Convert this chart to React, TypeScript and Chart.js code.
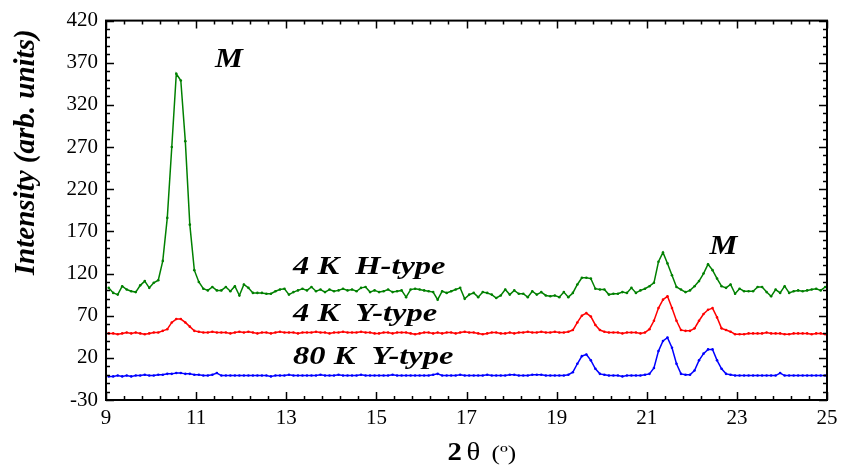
import React, { useEffect, useRef } from "react";
import { Chart, registerables } from "chart.js";

Chart.register(...registerables);

// 2θ sampling grid (degrees)
const twoTheta = [
  9.06, 9.16, 9.26, 9.36, 9.46, 9.56, 9.66, 9.76, 9.86, 9.96,
  10.06, 10.16, 10.26, 10.36, 10.46, 10.56, 10.66, 10.76, 10.86, 10.96,
  11.06, 11.16, 11.26, 11.36, 11.46, 11.56, 11.66, 11.76, 11.86, 11.96,
  12.06, 12.16, 12.26, 12.36, 12.46, 12.56, 12.66, 12.76, 12.86, 12.96,
  13.06, 13.16, 13.26, 13.36, 13.46, 13.56, 13.66, 13.76, 13.86, 13.96,
  14.06, 14.16, 14.26, 14.36, 14.46, 14.56, 14.66, 14.76, 14.86, 14.96,
  15.06, 15.16, 15.26, 15.36, 15.46, 15.56, 15.66, 15.76, 15.86, 15.96,
  16.06, 16.16, 16.26, 16.36, 16.46, 16.56, 16.66, 16.76, 16.86, 16.96,
  17.06, 17.16, 17.26, 17.36, 17.46, 17.56, 17.66, 17.76, 17.86, 17.96,
  18.06, 18.16, 18.26, 18.36, 18.46, 18.56, 18.66, 18.76, 18.86, 18.96,
  19.06, 19.16, 19.26, 19.36, 19.46, 19.56, 19.66, 19.76, 19.86, 19.96,
  20.06, 20.16, 20.26, 20.36, 20.46, 20.56, 20.66, 20.76, 20.86, 20.96,
  21.06, 21.16, 21.26, 21.36, 21.46, 21.56, 21.66, 21.76, 21.86, 21.96,
  22.06, 22.16, 22.26, 22.36, 22.46, 22.56, 22.66, 22.76, 22.86, 22.96,
  23.06, 23.16, 23.26, 23.36, 23.46, 23.56, 23.66, 23.76, 23.86, 23.96,
  24.06, 24.16, 24.26, 24.36, 24.46, 24.56, 24.66, 24.76, 24.86, 24.96,
];

// 4 K H-type (green)
const h4K = [
  103, 97, 95, 105, 101, 99, 98, 106, 111, 103,
  109, 112, 135, 186, 270, 357, 349, 277, 178, 124,
  110, 102, 100, 104, 100, 100, 104, 99, 105, 94,
  107, 103, 97, 97, 97, 96, 96, 99, 101, 102,
  95, 98, 100, 102, 100, 104, 99, 101, 98, 101,
  99, 100, 102, 100, 101, 99, 103, 104, 98, 100,
  98, 99, 101, 98, 99, 100, 92, 101, 102, 101,
  100, 99, 98, 89, 99, 97, 99, 101, 103, 90,
  95, 97, 92, 98, 97, 95, 91, 94, 101, 95,
  100, 96, 96, 92, 99, 95, 98, 94, 93, 94,
  92, 98, 92, 97, 107, 115, 115, 114, 102, 101,
  101, 95, 96, 96, 98, 97, 103, 97, 100, 102,
  105, 109, 134, 145, 132, 118, 104, 101, 98, 100,
  105, 111, 120, 131, 124, 114, 105, 103, 107, 96,
  102, 99, 99, 99, 104, 104, 98, 93, 101, 97,
  105, 97, 99, 100, 99, 100, 101, 102, 100, 104,
];

// 4 K Y-type (red)
const y4K = [
  49, 49, 48, 49, 50, 49, 50, 49, 48, 49,
  50, 50, 52, 54, 62, 66, 66, 62, 57, 52,
  51, 50, 50, 51, 50, 50, 50, 49, 50, 51,
  50, 51, 50, 49, 50, 50, 49, 50, 51, 50,
  50, 50, 49, 50, 50, 50, 51, 50, 50, 49,
  50, 50, 51, 50, 50, 50, 51, 50, 50, 49,
  49, 50, 50, 49, 50, 50, 50, 49, 48, 49,
  50, 50, 49, 50, 49, 50, 50, 49, 50, 51,
  50, 50, 49, 48, 49, 50, 50, 49, 49, 50,
  49, 50, 50, 51, 50, 50, 51, 50, 50, 51,
  50, 50, 51, 53, 62, 70, 73, 69, 59, 53,
  51, 50, 50, 50, 49, 50, 50, 50, 49, 50,
  54, 64, 79, 89, 93, 79, 64, 53, 52, 52,
  55, 64, 72, 77, 79, 68, 55, 53, 51, 48,
  48, 48, 49, 49, 49, 49, 50, 49, 49, 49,
  48, 48, 49, 49, 49, 49, 48, 49, 49, 48,
];

// 80 K Y-type (blue)
const y80K = [
  -2, -2, -1, -2, -1, -2, -1, -1, 0, -1,
  -1, 0, 0, 1, 1, 2, 2, 1, 1, 0,
  0, -1, -1, 0, 2, -1, -1, -1, -1, -1,
  -1, -1, -1, -1, -1, -1, -2, -1, -1, -1,
  0, -1, -1, -1, -1, -1, -1, 0, -1, -1,
  -1, 0, -1, -1, -1, -1, 0, -1, -1, -1,
  -1, -1, -1, 0, -1, -1, -1, -1, -1, -1,
  -1, -1, 0, 1, -1, -1, -1, -1, 0, -1,
  -1, -1, -1, -1, 0, -1, -1, -1, -1, 0,
  0, -1, -1, -1, 0, 0, 0, -1, -1, -1,
  -1, -1, 0, 3, 13, 22, 24, 17, 7, 1,
  0, -1, -1, -1, -2, -1, -1, -1, -1, 0,
  1, 8, 28, 40, 44, 32, 13, 1, 0, 0,
  5, 17, 25, 30, 30, 17, 7, 1, 0, -1,
  -1, -1, -1, -1, -1, -1, -1, -1, -1, 2,
  -1, -1, -1, -1, -1, -1, -1, -1, -1, -1,
];

const seriesNames = ["4 K  H-type", "4 K  Y-type", "80 K  Y-type"];
const seriesColors = ["#008000", "#ff0000", "#0000ff"];
// label anchor (2θ, intensity) for each series name, left/baseline
const seriesLabelX = [13.15, 13.15, 13.15];
const seriesLabelY = [119, 64, 13];
const peakMarks = ["M", "M"];
const peakMarkX = [11.42, 22.39];
const peakMarkY = [365, 143];

const SERIF = "'Liberation Serif', 'Times New Roman', serif";

function drawStretched(ctx: CanvasRenderingContext2D, text: string, x: number, y: number, font: string, sx: number) {
  ctx.save();
  ctx.font = font;
  ctx.textAlign = "left";
  ctx.textBaseline = "alphabetic";
  ctx.translate(x, y);
  ctx.scale(sx, 1);
  ctx.fillText(text, 0, 0);
  ctx.restore();
}

const framePlugin = {
  id: "frameAndText",
  afterDatasetsDraw(chart: any) {
    const { ctx, chartArea: a, scales } = chart;
    const xs = scales.x;
    const ys = scales.y;
    ctx.save();
    ctx.strokeStyle = "#000";
    ctx.fillStyle = "#000";
    ctx.lineWidth = 1.5;
    // x ticks (inward, top and bottom)
    for (let i = 0; i <= 40; i++) {
      const px = Math.round(xs.getPixelForValue(9 + i * 0.4)) + 0.5;
      const len = i % 5 === 0 ? 8 : 4;
      ctx.beginPath();
      ctx.moveTo(px, a.bottom);
      ctx.lineTo(px, a.bottom - len);
      ctx.moveTo(px, a.top);
      ctx.lineTo(px, a.top + len);
      ctx.stroke();
    }
    // y ticks (inward, left and right)
    for (let i = 0; i <= 45; i++) {
      const py = Math.round(ys.getPixelForValue(-30 + i * 10)) + 0.5;
      const len = i % 5 === 0 ? 8 : 4;
      ctx.beginPath();
      ctx.moveTo(a.left, py);
      ctx.lineTo(a.left + len, py);
      ctx.moveTo(a.right, py);
      ctx.lineTo(a.right - len, py);
      ctx.stroke();
    }
    ctx.lineWidth = 2;
    ctx.strokeRect(a.left, a.top, a.right - a.left, a.bottom - a.top);

    // series labels
    for (let i = 0; i < seriesNames.length; i++) {
      drawStretched(
        ctx,
        seriesNames[i],
        xs.getPixelForValue(seriesLabelX[i]),
        ys.getPixelForValue(seriesLabelY[i]),
        `italic bold 25px ${SERIF}`,
        1.3
      );
    }
    // peak marks
    for (let i = 0; i < peakMarks.length; i++) {
      drawStretched(
        ctx,
        peakMarks[i],
        xs.getPixelForValue(peakMarkX[i]),
        ys.getPixelForValue(peakMarkY[i]),
        `italic bold 28px ${SERIF}`,
        1.12
      );
    }

    // y-axis title
    ctx.save();
    ctx.translate(27, (a.top + a.bottom) / 2 - 58);
    ctx.rotate(-Math.PI / 2);
    ctx.font = `italic bold 29px ${SERIF}`;
    ctx.textAlign = "center";
    ctx.textBaseline = "middle";
    ctx.fillText("Intensity (arb. units)", 0, 0);
    ctx.restore();

    // x-axis title: "2 θ  (º)"
    const cx = (a.left + a.right) / 2 + 12;
    const base = a.bottom + 60;
    drawStretched(ctx, "2", cx - 31, base, `bold 25px ${SERIF}`, 1.15);
    drawStretched(ctx, "θ", cx - 12, base, `25px ${SERIF}`, 1.15);
    drawStretched(ctx, "(º)", cx + 13, base, `22px ${SERIF}`, 1.15);
    ctx.restore();
  },
};

export default function App() {
  const canvasRef = useRef<HTMLCanvasElement | null>(null);

  useEffect(() => {
    if (!canvasRef.current) return;
    const series = [h4K, y4K, y80K];
    const chart = new Chart(canvasRef.current, {
      type: "line",
      data: {
        datasets: series.map((vals, i) => ({
          label: seriesNames[i],
          data: vals.map((v, k) => ({ x: twoTheta[k], y: v })),
          borderColor: seriesColors[i],
          backgroundColor: seriesColors[i],
          pointBackgroundColor: seriesColors[i],
          pointBorderColor: seriesColors[i],
          borderWidth: 1.5,
          pointRadius: 1.3,
          pointBorderWidth: 0,
          tension: 0,
          fill: false,
        })),
      },
      options: {
        responsive: false,
        animation: false,
        layout: { padding: { left: 0, top: 16, right: 23, bottom: 0 } },
        plugins: {
          legend: { display: false },
          tooltip: { enabled: false },
        },
        scales: {
          x: {
            type: "linear",
            min: 9,
            max: 25,
            ticks: {
              stepSize: 2,
              color: "#000",
              padding: 6,
              font: { family: SERIF, size: 21 },
              maxRotation: 0,
            },
            grid: { display: false, drawTicks: false },
            border: { display: false },
            afterFit: (scale: any) => {
              scale.height = 68;
            },
          },
          y: {
            type: "linear",
            min: -30,
            max: 420,
            ticks: {
              stepSize: 50,
              color: "#000",
              padding: 8,
              font: { family: SERIF, size: 21 },
            },
            grid: { display: false, drawTicks: false },
            border: { display: false },
            afterFit: (scale: any) => {
              scale.width = 106;
            },
          },
        },
      },
      plugins: [framePlugin],
    });
    return () => chart.destroy();
  }, []);

  return (
    <div style={{ position: "fixed", left: 0, top: 0, width: 850, height: 468, background: "#fff" }}>
      <canvas ref={canvasRef} width={850} height={468} style={{ width: 850, height: 468 }} />
    </div>
  );
}
